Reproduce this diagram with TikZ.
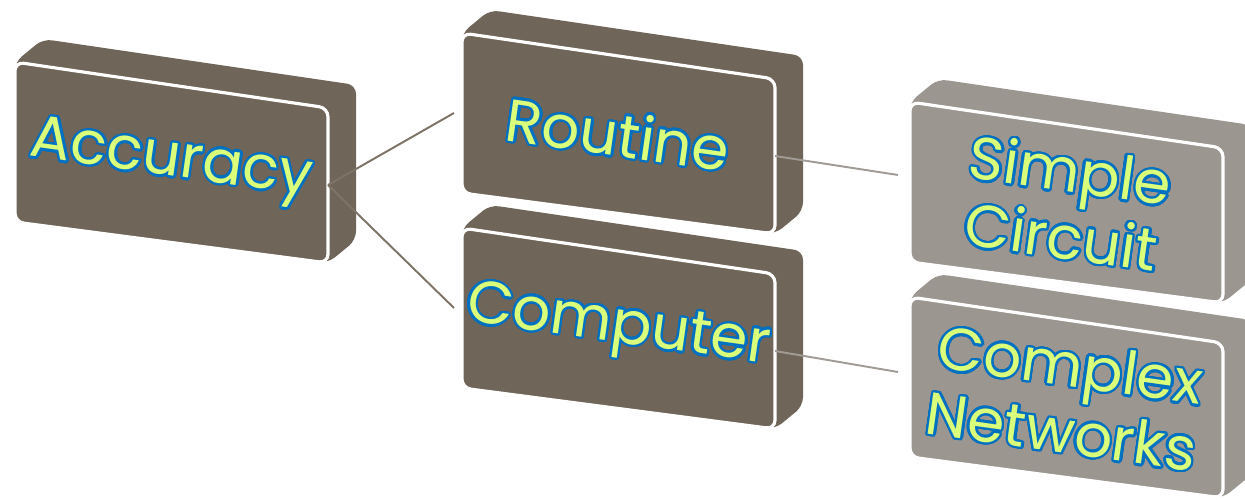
\documentclass[tikz,border=0pt]{standalone}
\usepackage{fontspec}
\setmainfont{Poppins}
\usepackage{contour}
\usetikzlibrary{calc}
\contourlength{1.4pt}
\contournumber{24}
\definecolor{taupe}{RGB}{111,101,88}
\definecolor{stone}{RGB}{155,150,144}
\definecolor{lime}{RGB}{218,255,122}
\definecolor{rim}{RGB}{0,112,192}
\definecolor{linkdark}{RGB}{125,115,102}
\definecolor{linklight}{RGB}{160,155,149}

% name, x, y, fill, text
\newcommand\slab[5]{%
\fill[#4, rounded corners=5pt] (#2,#3) -- ++(28,-23) -- ++(313,46) -- ++(0,155) -- ++(-28,23) -- ++(-313,-41) -- cycle;
\filldraw[fill=#4, draw=white, line width=1.8pt, rounded corners=5pt] (#2,#3) -- ++(313,46) -- ++(0,155) -- ++(-313,-41) -- cycle;
\coordinate (#1-w) at (#2,#3+80);
\coordinate (#1-e) at (#2+313,#3+123);
\node[label text] (#1) at (#2+156,#3+102) {#5};
}
\newcommand\lbl[1]{\contour{rim}{\textcolor{lime}{#1}}}

\begin{document}
\begin{tikzpicture}[x=0.02cm, y=-0.02cm,
  label text/.style={rotate=-8, align=center, font=\fontsize{34}{38}\selectfont},
  link/.style={line width=1.1pt}]
\useasboundingbox (0,0) rectangle (1245,500);

\slab{acc}{15}{62}{taupe}{\lbl{Accuracy}}
\slab{rout}{462}{33}{taupe}{\lbl{Routine}}
\slab{comp}{462}{228}{taupe}{\lbl{Computer}}
\slab{simp}{910}{102}{stone}{\lbl{Simple}\\\lbl{Circuit}}
\slab{cplx}{910}{297}{stone}{\lbl{Complex}\\\lbl{Networks}}

\draw[link, linkdark] (acc-e) -- ($(rout-w)+(-8,0)$);
\draw[link, linkdark] (acc-e) -- ($(comp-w)+(-8,0)$);
\draw[link, linklight] (rout-e) -- ($(simp-w)+(-12,-7)$);
\draw[link, linklight] (comp-e) -- ($(cplx-w)+(-12,-5)$);
\end{tikzpicture}
\end{document}
